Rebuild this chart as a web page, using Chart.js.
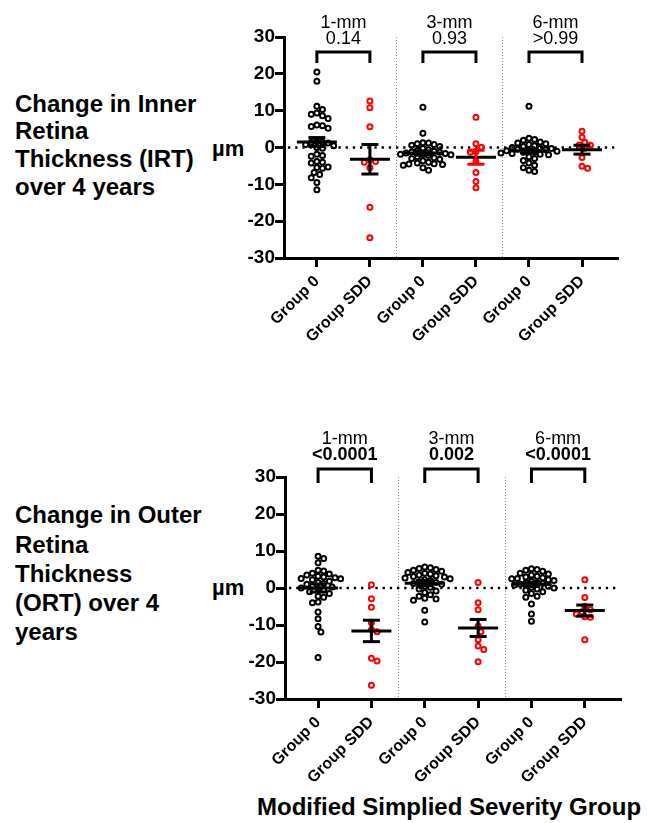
<!DOCTYPE html>
<html><head><meta charset="utf-8">
<script src="https://cdn.jsdelivr.net/npm/chart.js@4/dist/chart.umd.min.js"></script>
<style>
html,body{margin:0;padding:0;background:#fff;width:647px;height:823px;overflow:hidden;font-family:'Liberation Sans',Arial,sans-serif;}
.t{position:absolute;font-weight:bold;color:#000;white-space:nowrap;}
.side{left:15px;font-size:24px;}
canvas{position:absolute;}
</style></head>
<body>
<div class="t side" style="top:89.5px;line-height:27.8px;">Change in Inner<br>Retina<br>Thickness (IRT)<br>over 4 years</div>
<div class="t side" style="top:500.4px;line-height:29.2px;">Change in Outer<br>Retina<br>Thickness<br>(ORT) over 4<br>years</div>
<div class="t" style="left:212px;top:138px;font-size:22px;line-height:22px;">µm</div>
<div class="t" style="left:212px;top:577px;font-size:22px;line-height:22px;">µm</div>
<div class="t" style="left:257px;top:794.7px;font-size:24px;line-height:24px;">Modified Simplied Severity Group</div>
<canvas id="c1" width="447" height="380" style="left:200px;top:0px;"></canvas>
<canvas id="c2" width="447" height="390" style="left:200px;top:400px;"></canvas>
<script>
// ---------- data ----------
const categories = ['Group 0','Group SDD','Group 0','Group SDD','Group 0','Group SDD'];
const regionLabels = ['1-mm','3-mm','6-mm'];
const yTicks = [-30,-20,-10,0,10,20,30];
const irtPValues = ['0.14','0.93','>0.99'];
const ortPValues = ['<0.0001','0.002','<0.0001'];

// Inner retina thickness change (µm)
const irtGroup0_1mm = [20.5,18.0,11.2,10.3,9.4,9.0,8.6,7.9,6.1,5.9,5.7,5.2,1.6,1.4,1.2,1.5,0.8,0.5,0.0,-0.2,-2.2,-1.8,-2.4,-4.0,-3.8,-4.2,-5.4,-5.6,-5.3,-6.8,-7.3,-8.2,-9.5,-11.5];
const irtSdd_1mm = [12.6,10.8,5.6,-3.3,-3.8,-4.0,-5.5,-16.2,-24.5];
const irtGroup0_3mm = [10.9,3.9,1.3,1.0,0.8,1.2,0.6,0.3,-0.3,-0.6,-1.0,-1.2,-1.5,-1.8,-2.0,-2.2,-2.5,-1.6,-1.9,-2.8,-3.2,-3.6,-4.0,-4.4,-4.6,-4.5,-4.2,-4.8,-5.5,-6.2,-3.0,-0.8,-1.3];
const irtSdd_3mm = [8.2,1.0,0.1,-1.1,-1.3,-3.8,-6.8,-9.2,-10.9];
const irtGroup0_6mm = [11.2,2.5,2.2,2.0,1.5,1.2,1.0,0.8,0.5,0.3,0.0,-0.2,-0.3,-0.5,-0.6,-0.8,-0.9,-1.0,-1.2,-1.3,-1.5,-1.6,-1.8,-2.0,-2.5,-3.0,-3.5,-4.2,-4.8,-5.5,-6.2,-6.5];
const irtSdd_6mm = [4.4,2.8,1.4,0.7,0.6,-0.2,-2.7,-5.6,-5.1];
const irtMeans = [1.5,-3.2,-1.5,-2.65,-0.9,-0.6];
const irtSems  = [1.2,4.0,0.6,1.9,0.5,1.2];

// Outer retina thickness change (µm)
const ortGroup0_1mm = [8.6,8.0,6.8,4.8,4.6,4.0,3.8,3.5,3.2,3.0,2.8,2.6,2.5,2.2,1.8,1.5,1.2,1.0,0.5,0.3,0.0,-0.3,-0.5,-1.0,-1.5,-2.2,-2.5,-3.8,-4.0,-6.5,-8.3,-10.4,-11.9,-18.8];
const ortSdd_1mm = [0.9,-2.9,-5.2,-9.4,-11.2,-11.8,-19.0,-19.7,-26.3];
const ortGroup0_3mm = [5.7,5.5,5.3,5.0,4.8,4.5,4.2,4.0,3.8,3.5,3.3,3.1,3.0,2.7,2.5,2.2,2.0,1.7,1.5,1.2,1.0,0.5,0.2,-0.3,-0.8,-1.2,-1.8,-2.2,-2.8,-3.0,-3.3,-6.0,-9.2];
const ortSdd_3mm = [1.5,-4.0,-5.9,-10.3,-11.8,-14.0,-15.7,-16.6,-19.9];
const ortGroup0_6mm = [5.2,5.0,4.8,4.5,4.0,3.8,3.5,3.2,3.0,2.8,2.6,2.5,2.2,2.0,1.8,1.5,1.4,1.2,1.0,0.8,0.5,0.2,0.0,-0.3,-0.6,-1.0,-1.5,-2.2,-2.5,-4.3,-7.0,-9.0];
const ortSdd_6mm = [2.2,-2.6,-4.9,-5.9,-6.4,-7.0,-7.8,-7.9,-14.0];
const ortMeans = [0.0,-11.6,1.3,-10.8,1.0,-6.1];
const ortSems  = [1.1,2.9,0.7,2.3,0.6,1.5];

// ---------- helpers ----------
const FONT = "'Liberation Sans', Arial, sans-serif";
const RED = '#ff0000', BLACK = '#000000';

function swarm(values, col){
  const pxX = 53, pxY = 221/60, dmin = 5.6, step = 2.8;
  const sorted = values.slice().sort((a,b)=>b-a);
  const placed = [];
  for (const v of sorted){
    for (let k=0;k<60;k++){
      const m = k===0 ? 0 : (k%2 ? (k+1)/2 : -k/2);
      const d = m*step;
      let ok = true;
      for (const p of placed){
        const dx = p.d - d, dy = (p.v - v)*pxY;
        if (dx*dx+dy*dy < dmin*dmin){ ok=false; break; }
      }
      if (ok){ placed.push({v,d}); break; }
    }
  }
  return placed.map(p=>({x: col + p.d/pxX, y: p.v}));
}

function makeChart(id, cols, means, sems, pvals, opt){
  const g0 = [], sdd = [];
  cols.forEach((vals,i)=>{ (i%2===0 ? g0 : sdd).push(...swarm(vals,i)); });
  const stems = [];
  means.forEach((m,i)=>{ stems.push({x:i,y:m-sems[i]},{x:i,y:m+sems[i]},{x:i,y:null}); });
  const meanPts = means.map((m,i)=>({x:i,y:m}));
  const caps = [];
  means.forEach((m,i)=>{ caps.push({x:i,y:m+sems[i]},{x:i,y:m-sems[i]}); });
  const capColors = [];
  means.forEach((m,i)=>{ const c = opt.errColors[i]; capColors.push(c,c); });

  const annot = {
    id:'annot'+id,
    beforeDatasetsDraw(chart){
      const {ctx, chartArea:a, scales:{x,y}} = chart;
      ctx.save();
      ctx.strokeStyle = '#8a8a8a'; ctx.lineWidth = 1; ctx.setLineDash([1,2]);
      for (let k=1;k<3;k++){
        const px = Math.round(x.getPixelForValue(2*k-0.5))+0.5;
        ctx.beginPath(); ctx.moveTo(px,a.top); ctx.lineTo(px,a.bottom); ctx.stroke();
      }
      const y0 = y.getPixelForValue(0);
      ctx.strokeStyle = BLACK; ctx.lineWidth = 2.4; ctx.setLineDash([2.3,4.9]);
      ctx.beginPath(); ctx.moveTo(a.left+4,y0); ctx.lineTo(a.right,y0); ctx.stroke();
      ctx.restore();
    },
    afterDraw(chart){
      const {ctx, chartArea:a, scales:{x}} = chart;
      ctx.save();
      ctx.fillStyle = BLACK; ctx.strokeStyle = BLACK; ctx.lineWidth = 3; ctx.setLineDash([]);
      ctx.textAlign = 'center'; ctx.textBaseline = 'alphabetic';
      for (let k=0;k<3;k++){
        const x1 = x.getPixelForValue(2*k), x2 = x.getPixelForValue(2*k+1);
        const by = a.top + opt.bracketY, ly = a.top + opt.bracketY + opt.legLen;
        ctx.beginPath(); ctx.moveTo(x1,ly); ctx.lineTo(x1,by); ctx.lineTo(x2,by); ctx.lineTo(x2,ly); ctx.stroke();
        const cx = (x1+x2)/2;
        ctx.font = '18px '+FONT;
        ctx.fillText(regionLabels[k], cx, a.top + opt.labelY);
        ctx.font = (opt.pBold ? 'bold ' : '') + '18px '+FONT;
        ctx.fillText(pvals[k], cx, a.top + opt.pY);
      }
      ctx.restore();
    }
  };

  return new Chart(document.getElementById(id), {
    type:'scatter',
    data:{ datasets:[
      { data: stems, showLine:true, spanGaps:false, pointRadius:0, borderWidth:3, borderColor:BLACK,
        segment:{ borderColor: c => opt.errColors[Math.floor(c.p0DataIndex/3)] } },
      { data: meanPts, pointStyle:'line', pointRadius:20, pointBorderWidth:3, pointBorderColor:BLACK, borderColor:BLACK },
      { data: caps, pointStyle:'line', pointRadius:8.5, pointBorderWidth:3, pointBorderColor:capColors, borderColor:BLACK },
      { data: g0, pointStyle:'circle', pointRadius:2.5, pointBorderWidth:2, pointBorderColor:BLACK, pointBackgroundColor:'rgba(0,0,0,0)' },
      { data: sdd, pointStyle:'circle', pointRadius:2.5, pointBorderWidth:2, pointBorderColor:RED, pointBackgroundColor:'rgba(0,0,0,0)' }
    ]},
    options:{
      responsive:false, animation:false, events:[],
      layout:{ padding:{ top:opt.padTop, right:opt.padRight, bottom:0, left:0 } },
      plugins:{ legend:{display:false}, tooltip:{enabled:false} },
      scales:{
        x:{ type:'linear', min:-0.62, max:5.66,
            afterBuildTicks: s => { s.ticks = categories.map((c,i)=>({value:i})); },
            afterFit: s => { s.height = opt.xH; },
            ticks:{ autoSkip:false, minRotation:45, maxRotation:45, padding:5, color:BLACK,
                    font:{family:FONT, size:16, weight:'bold'},
                    callback: v => categories[Math.round(v)] },
            grid:{ drawOnChartArea:false, drawTicks:true, tickLength:9, color:BLACK, lineWidth:3 },
            border:{ display:true, color:BLACK, width:3 } },
        y:{ type:'linear', min:-30, max:30,
            afterBuildTicks: s => { s.ticks = yTicks.map(v=>({value:v})); },
            afterFit: s => { s.width = opt.yW; },
            ticks:{ padding:0, color:BLACK, font:{family:FONT, size:19, weight:'bold'} },
            grid:{ drawOnChartArea:false, drawTicks:true, tickLength:9, color:BLACK, lineWidth:3 },
            border:{ display:true, color:BLACK, width:3 } }
      }
    },
    plugins:[annot]
  });
}

makeChart('c1',
  [irtGroup0_1mm, irtSdd_1mm, irtGroup0_3mm, irtSdd_3mm, irtGroup0_6mm, irtSdd_6mm],
  irtMeans, irtSems, irtPValues,
  { padTop:37, padRight:30, xH:122, yW:84, bracketY:15, legLen:11, labelY:-9, pY:7, pBold:false,
    errColors:[BLACK,BLACK,BLACK,RED,BLACK,BLACK] });

makeChart('c2',
  [ortGroup0_1mm, ortSdd_1mm, ortGroup0_3mm, ortSdd_3mm, ortGroup0_6mm, ortSdd_6mm],
  ortMeans, ortSems, ortPValues,
  { padTop:77, padRight:27, xH:91, yW:85, bracketY:-8, legLen:14, labelY:-33.5, pY:-17, pBold:true,
    errColors:[BLACK,BLACK,BLACK,BLACK,BLACK,BLACK] });
</script>
</body></html>
